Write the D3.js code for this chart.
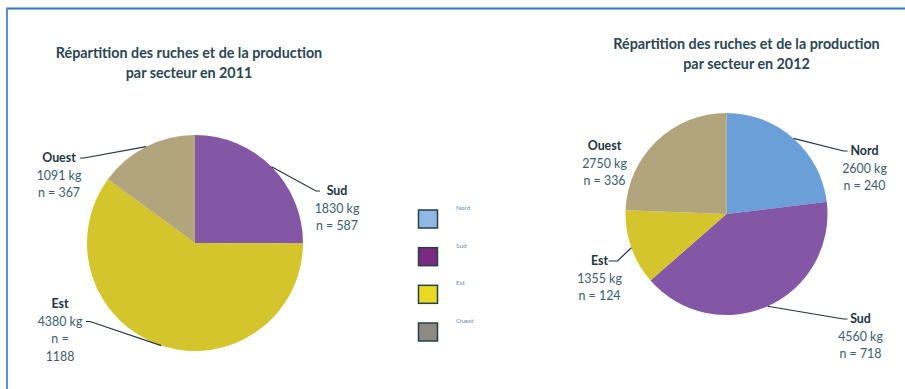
<!DOCTYPE html>
<html>
<head>
<meta charset="utf-8">
<script src="https://cdn.jsdelivr.net/npm/d3@7"></script>
<style>
  html, body { margin: 0; padding: 0; background: #fff; }
  svg { display: block; font-family: Lato, "Open Sans", sans-serif; }
</style>
</head>
<body>
<svg id="chart" width="905" height="389"></svg>
<script>
// Sectors and yearly figures (production in kg, number of hives n)
const sectors = ["Nord", "Sud", "Est", "Ouest"];
const kg2011 = [0, 1830, 4380, 1091];
const n2011 = [0, 587, 1188, 367];
const kg2012 = [2600, 4560, 1355, 2750];
const n2012 = [240, 718, 124, 336];
const titles = [
  ["Répartition des ruches et de la production", "par secteur en 2011"],
  ["Répartition des ruches et de la production", "par secteur en 2012"]
];

const sliceColor = d3.scaleOrdinal()
  .domain(sectors)
  .range(["#6a9fd8", "#8356a6", "#d3c52b", "#b2a47b"]);
const legendColor = d3.scaleOrdinal()
  .domain(sectors)
  .range(["#8fb8e4", "#7b2a7f", "#e8da22", "#8e8a82"]);

const svg = d3.select("#chart");

// outer frame
svg.append("line").attr("x1", 6).attr("x2", 905).attr("y1", 8.5).attr("y2", 8.5)
  .attr("stroke", "#2e78c6").attr("stroke-width", 2);
svg.append("line").attr("x1", 7).attr("x2", 7).attr("y1", 8).attr("y2", 389)
  .attr("stroke", "#5b90d0").attr("stroke-width", 2);

// label placement per pie, as offsets (dx, dy) of the label block from the pie centre
const layouts = [
  {
    cx: 195, cy: 243, r: 108, titleX: 189, titleY: 58,
    labels: {
      Sud:   { dx: 142, dy: -48, anchorX: -17, side: "left" },
      Est:   { dx: -135, dy: 65, anchorX: 26, anchorRow: 1, side: "right", lines: 4 },
      Ouest: { dx: -136, dy: -81, anchorX: 21, side: "right" }
    }
  },
  {
    cx: 726.5, cy: 214, r: 101, titleX: 746.5, titleY: 49,
    labels: {
      Nord:  { dx: 138, dy: -59, anchorX: -17, side: "left" },
      Sud:   { dx: 134, dy: 109, anchorX: -13, side: "left" },
      Est:   { dx: -127, dy: 51, anchorX: 9, side: "right", bend: true },
      Ouest: { dx: -122, dy: -64, none: true }
    }
  }
];

const datasets = [
  sectors.map((s, i) => ({ sector: s, kg: kg2011[i], n: n2011[i] })).filter(d => d.kg > 0),
  sectors.map((s, i) => ({ sector: s, kg: kg2012[i], n: n2012[i] }))
];

const pie = d3.pie().sort(null).value(d => d.kg);
const textColor = "#2a4654";

datasets.forEach((data, k) => {
  const L = layouts[k];
  const g = svg.append("g").attr("transform", `translate(${L.cx},${L.cy})`);
  const arc = d3.arc().innerRadius(0).outerRadius(L.r);
  const edge = d3.arc().innerRadius(L.r).outerRadius(L.r);
  const arcs = pie(data);

  g.selectAll("path.slice").data(arcs).join("path")
    .attr("class", "slice")
    .attr("d", arc)
    .attr("fill", d => sliceColor(d.data.sector));

  // title
  const t = svg.append("text")
    .attr("x", L.titleX).attr("y", L.titleY)
    .attr("text-anchor", "middle")
    .attr("font-size", 14.3).attr("font-weight", 700)
    .attr("fill", textColor);
  titles[k].forEach((line, i) => t.append("tspan").attr("x", L.titleX).attr("dy", i ? 19.5 : 0).text(line));

  arcs.forEach(a => {
    const p = L.labels[a.data.sector];
    const lines = p.lines === 4
      ? [a.data.sector, `${a.data.kg} kg`, "n =", `${a.data.n}`]
      : [a.data.sector, `${a.data.kg} kg`, `n = ${a.data.n}`];
    const lx = p.dx, ly = p.dy;
    const txt = g.append("text")
      .attr("text-anchor", "middle")
      .attr("font-size", 12.4)
      .attr("fill", textColor);
    lines.forEach((line, i) => {
      txt.append("tspan")
        .attr("x", lx)
        .attr("y", ly + i * 17.5)
        .attr("font-weight", i === 0 ? 700 : 400)
        .attr("fill", i === 0 ? "#22343f" : "#3a5d70")
        .text(line);
    });
    if (p.none) return;
    // leader line from the slice's outer edge to the label
    const [ex, ey] = edge.centroid(a);
    const row = p.anchorRow || 0;
    const ax = lx + p.anchorX;
    const ay = ly + row * 17.5 - 4;
    const pts = p.bend
      ? [[ex, ey], [ax + 9, ay], [ax, ay]]
      : [[ex, ey], [ax + (p.side === "left" ? -4 : 4), ay], [ax, ay]];
    g.append("path")
      .attr("d", d3.line()(pts))
      .attr("fill", "none")
      .attr("stroke", "#1f3440")
      .attr("stroke-width", 1.2);
  });
});

// legend
const legend = svg.append("g");
const ly = d3.scalePoint().domain(sectors).range([219, 332]);
sectors.forEach(s => {
  legend.append("rect")
    .attr("x", 418.5).attr("y", ly(s) - 9)
    .attr("width", 19).attr("height", 18)
    .attr("fill", legendColor(s))
    .attr("stroke", "#25414e").attr("stroke-width", 1.5);
  legend.append("text")
    .attr("x", 456).attr("y", ly(s) - 9)
    .attr("font-size", 6.5)
    .attr("fill", "#6b8fb2")
    .text(s);
});
</script>
</body>
</html>
